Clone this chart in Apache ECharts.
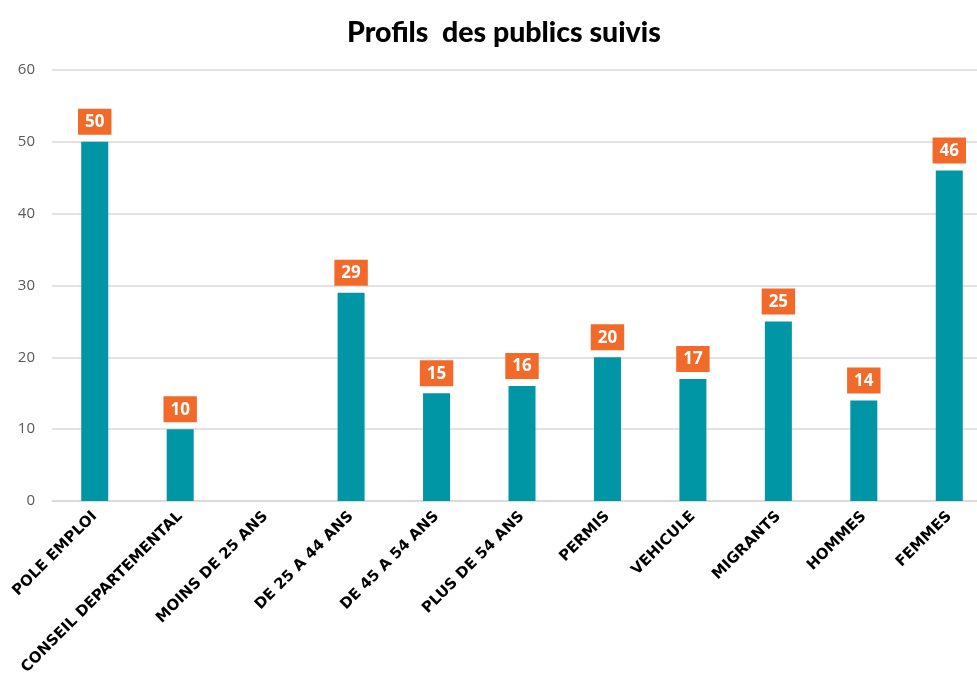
<!DOCTYPE html>
<html>
<head>
<meta charset="utf-8">
<script src="https://cdn.jsdelivr.net/npm/echarts@6/dist/echarts.min.js"></script>
<style>
  html, body { margin: 0; padding: 0; background: #fff; }
  #chart { width: 977px; height: 679px; }
</style>
</head>
<body>
<div id="chart"></div>
<script>
// données du graphique
const categories = ['POLE EMPLOI', 'CONSEIL DEPARTEMENTAL', 'MOINS DE 25 ANS', 'DE 25 A 44 ANS',
  'DE 45 A 54 ANS', 'PLUS DE 54 ANS', 'PERMIS', 'VEHICULE', 'MIGRANTS', 'HOMMES', 'FEMMES']
const values = [50, 10, null, 29, 15, 16, 20, 17, 25, 14, 46]
const yTicks = [0, 10, 20, 30, 40, 50, 60]

let myChart = echarts.init(document.getElementById('chart'))
let option = {
  animation: false,
  title: {
    text: 'Profils  des publics suivis',
    left: 342,
    top: 13,
    textStyle: { fontFamily: 'Lato', fontWeight: 900, fontSize: 28.5, color: '#000' }
  },
  grid: { left: 52, top: 70, width: 940, height: 431, outerBoundsMode: 'none', containLabel: false },
  xAxis: {
    type: 'category',
    data: categories,
    axisTick: { show: false },
    axisLine: { lineStyle: { color: '#d9d9d9', width: 1.5 } },
    axisLabel: {
      interval: 0,
      rotate: 45,
      margin: 13,
      fontFamily: 'DejaVu Sans',
      fontWeight: 'bold',
      fontSize: 15,
      color: '#000'
    }
  },
  yAxis: {
    type: 'value',
    min: yTicks[0],
    max: yTicks[yTicks.length - 1],
    interval: 10,
    axisLine: { show: false },
    axisTick: { show: false },
    splitLine: { lineStyle: { color: '#d9d9d9', width: 1.5 } },
    axisLabel: { fontFamily: 'Open Sans', fontSize: 15, color: '#595959', margin: 17 }
  },
  series: [
    {
      type: 'bar',
      data: values,
      barWidth: 27,
      itemStyle: { color: '#0096a6' },
      label: {
        show: true,
        position: 'top',
        distance: 7,
        backgroundColor: '#f26a2a',
        color: '#fff',
        fontFamily: 'Open Sans',
        fontWeight: 'bold',
        fontSize: 17,
        padding: [5, 7, 4, 7]
      }
    }
  ]
}
option && myChart.setOption(option)
</script>
</body>
</html>
